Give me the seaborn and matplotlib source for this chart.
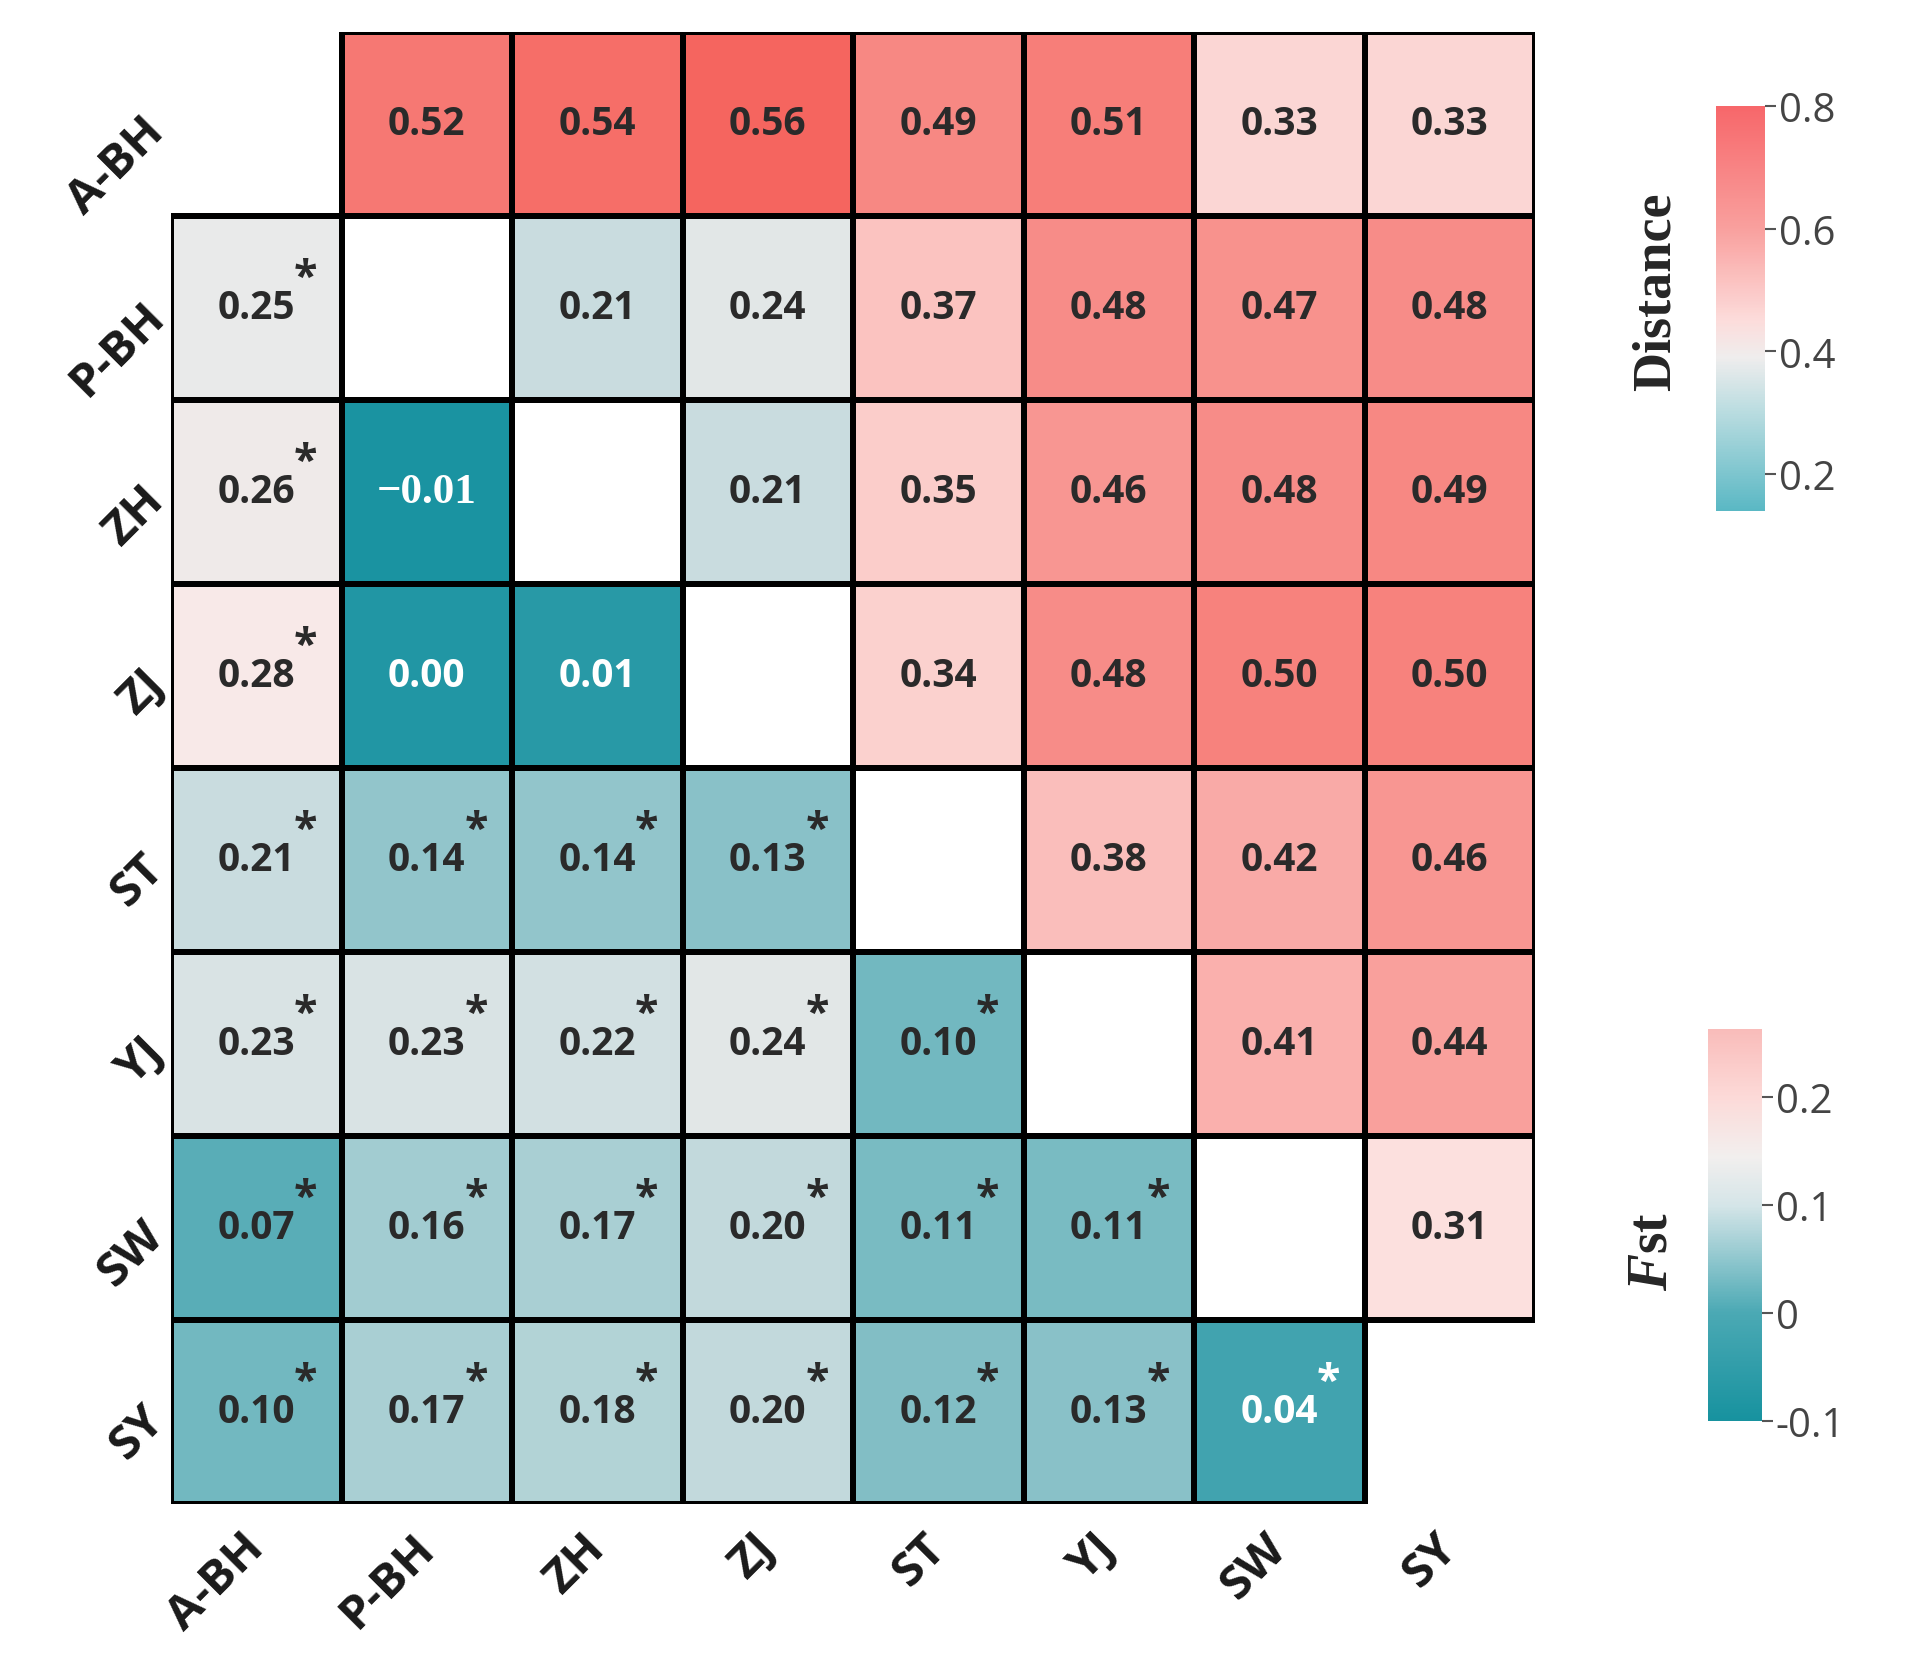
"""
Pairwise genetic distance (upper triangle) and Fst (lower triangle) heatmap
"""
import numpy as np
import pandas as pd
import seaborn as sns
import matplotlib.pyplot as plt
import matplotlib.transforms as mtransforms
from matplotlib.colors import LinearSegmentedColormap, Normalize
from matplotlib.cm import ScalarMappable

# 1. Data
pops = ['A-BH', 'P-BH', 'ZH', 'ZJ', 'ST', 'YJ', 'SW', 'SY']

# genetic distance, upper triangle: row i, columns i+1 .. end
dist_upper = [
    [0.52, 0.54, 0.56, 0.49, 0.51, 0.33, 0.33],
    [0.21, 0.24, 0.37, 0.48, 0.47, 0.48],
    [0.21, 0.35, 0.46, 0.48, 0.49],
    [0.34, 0.48, 0.50, 0.50],
    [0.38, 0.42, 0.46],
    [0.41, 0.44],
    [0.31],
]

# pairwise Fst, lower triangle: row i+1, columns 0 .. i
fst_lower = [
    [0.25],
    [0.26, -0.01],
    [0.28, 0.00, 0.01],
    [0.21, 0.14, 0.14, 0.13],
    [0.23, 0.23, 0.22, 0.24, 0.10],
    [0.07, 0.16, 0.17, 0.20, 0.11, 0.11],
    [0.10, 0.17, 0.18, 0.20, 0.12, 0.13, 0.04],
]
fst_signif = [
    [1],
    [1, 0],
    [1, 0, 0],
    [1, 1, 1, 1],
    [1, 1, 1, 1, 1],
    [1, 1, 1, 1, 1, 1],
    [1, 1, 1, 1, 1, 1, 1],
]

# colour bar scales as printed on the figure
dist_ticks = [0.2, 0.4, 0.6, 0.8]
fst_ticks = [-0.1, 0, 0.1, 0.2]
fst_tick_labels = ['-0.1', '0', '0.1', '0.2']

n = len(pops)
dist = np.full((n, n), np.nan)
fst = np.full((n, n), np.nan)
sig = np.zeros((n, n), dtype=bool)
for i, row in enumerate(dist_upper):
    dist[i, i + 1:] = row
for i, row in enumerate(fst_lower):
    fst[i + 1, :i + 1] = row
    sig[i + 1, :i + 1] = np.array(fst_signif[i], dtype=bool)
df_dist = pd.DataFrame(dist, index=pops, columns=pops)
df_fst = pd.DataFrame(fst, index=pops, columns=pops)

# 2. Style
sns.set_theme(style='white')
plt.rcParams['font.family'] = ['Open Sans', 'DejaVu Sans']
plt.rcParams['mathtext.fontset'] = 'custom'
plt.rcParams['mathtext.it'] = 'Liberation Serif:italic:bold'
plt.rcParams['mathtext.rm'] = 'Liberation Serif:bold'


def make_cmap(name, stops, colors):
    lo, hi = stops[0], stops[-1]
    return LinearSegmentedColormap.from_list(
        name, [((s - lo) / (hi - lo), c) for s, c in zip(stops, colors)])


cell_stops = [-0.01, 0.25, 0.29, 0.40, 0.56]
cell_cmap = make_cmap('cell', cell_stops,
                      ['#1a93a1', '#eaeaea', '#fce9e7', '#fab5b2', '#f5655f'])
dist_stops = [0.14, 0.30, 0.39, 0.45, 0.60, 0.80]
dist_cmap = make_cmap('dist', dist_stops,
                      ['#5ab8c4', '#b9dce0', '#efeded', '#fcdcdb', '#f9a09e', '#f7676a'])
fst_stops = [-0.1, 0.0, 0.1, 0.145, 0.2, 0.263]
fst_cmap = make_cmap('fst', fst_stops,
                     ['#17929f', '#4ba9b4', '#d5e5e8', '#f2efee', '#fcdad8', '#f9bcba'])

# 3. Heatmap
fig = plt.figure(figsize=(19.05, 16.58), dpi=100)
ax = fig.add_axes([0.0898, 0.0923, 0.7160, 0.8878])

hm_kws = dict(cmap=cell_cmap, vmin=cell_stops[0], vmax=cell_stops[-1],
              linewidths=3, linecolor='black', cbar=False, ax=ax)
for df in (df_dist, df_fst):
    sns.heatmap(df, **hm_kws)
    # outline only the filled cells, leave empty ones borderless
    mesh = ax.collections[-1]
    filled = ~np.isnan(df.values.ravel())
    ec = np.zeros((filled.size, 4))
    ec[filled] = (0, 0, 0, 1)
    mesh.set_edgecolor(ec)
for sp in ax.spines.values():
    sp.set_visible(False)

dark = '#2a2a2a'
for i in range(n):
    for j in range(n):
        if not np.isnan(dist[i, j]):
            ax.text(j + 0.5, i + 0.5, f'{dist[i, j]:.2f}', ha='center', va='center',
                    fontsize=28, fontweight='bold', color=dark)
        v = fst[i, j]
        if np.isnan(v):
            continue
        col = 'white' if v < 0.05 else dark
        if v < 0:
            ax.text(j + 0.5, i + 0.5, f'\u2212{abs(v):.2f}', ha='center', va='center',
                    fontsize=31, fontweight='bold', color=col,
                    family=['Liberation Serif', 'DejaVu Serif'])
        else:
            ax.text(j + 0.5, i + 0.5, f'{v:.2f}', ha='center', va='center',
                    fontsize=28, fontweight='bold', color=col)
        if sig[i, j]:
            ax.text(j + 0.5 + 0.29, i + 0.5 - 0.16, '*', ha='center', va='center',
                    fontsize=31, fontweight='bold', color=col)

ax.set_xlabel('')
ax.set_ylabel('')
ax.tick_params(axis='both', length=0)
ax.tick_params(axis='x', pad=14)
ax.tick_params(axis='y', pad=10)
ax.set_xticklabels(pops, rotation=45, ha='right', va='top', rotation_mode='anchor',
                   fontsize=34, fontweight='bold', color='#1a1a1a')
ax.set_yticklabels(pops, rotation=45, ha='right', va='center', rotation_mode='anchor',
                   fontsize=34, fontweight='bold', color='#1a1a1a')
shift = mtransforms.ScaledTranslation(-0.16, 0, fig.dpi_scale_trans)
for lab in ax.get_xticklabels():
    lab.set_transform(lab.get_transform() + shift)

# 4. Colour bars
def add_bar(rect, cmap, lo, hi, ticks, labels):
    cax = fig.add_axes(rect)
    sm = ScalarMappable(norm=Normalize(lo, hi), cmap=cmap)
    cb = fig.colorbar(sm, cax=cax)
    cb.outline.set_visible(False)
    cb.set_ticks(ticks)
    cb.set_ticklabels(labels)
    cax.tick_params(length=8, width=1.5, color='#555555', labelsize=29,
                    labelcolor='#444444', pad=2)
    return cb


add_bar([0.9008, 0.6912, 0.0257, 0.2443], dist_cmap, dist_stops[0], dist_stops[-1],
        dist_ticks, [f'{t:.1f}' for t in dist_ticks])
add_bar([0.8966, 0.1423, 0.0283, 0.2364], fst_cmap, fst_stops[0], fst_stops[-1],
        fst_ticks, fst_tick_labels)

fig.text(0.8698, 0.8239, 'Distance', rotation=90, ha='center', va='center',
         fontsize=39, fontweight='bold', family=['Liberation Serif', 'DejaVu Serif'])
fig.text(0.8672, 0.2449, r'$\mathit{F}$st', rotation=90, ha='center', va='center',
         fontsize=40, fontweight='bold', family=['Liberation Serif', 'DejaVu Serif'])

fig.savefig('out.png', dpi=100, facecolor='white')
